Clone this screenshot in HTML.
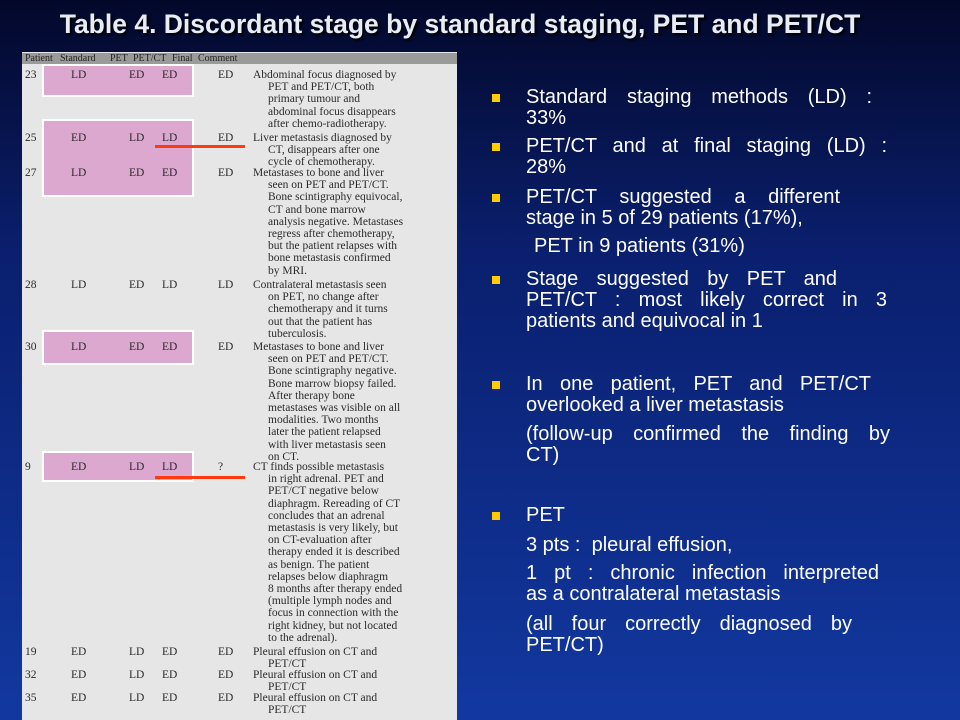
<!DOCTYPE html>
<html><head><meta charset="utf-8"><style>
*{margin:0;padding:0;box-sizing:border-box}
body{width:960px;height:720px;overflow:hidden;position:relative;background:linear-gradient(180deg,#03082a 0%,#0a1f6e 35%,#1238a0 100%);font-family:"Liberation Sans",sans-serif}
#title{position:absolute;left:0;width:920px;top:9px;text-align:center;color:#e8ecf4;font-size:26.5px;font-weight:bold;text-shadow:2px 2px 2px #000;white-space:nowrap}
#table{position:absolute;left:22px;top:52px;width:435px;height:668px;background:#e6e6e6;font-family:"Liberation Serif",serif;font-size:11.5px;color:#2a2a2a;overflow:hidden}
#hdr{position:absolute;left:0;top:1px;width:435px;height:11px;background:#9a9a9a;font-size:10px;line-height:11px;color:#222}
.c{position:absolute;white-space:nowrap;line-height:12.2px}
.pink{position:absolute;background:#dca8d0;border:2px solid #fff}
.red{position:absolute;height:3px;background:#ff3a10}
.b{position:absolute;left:492px;width:8px;height:8px;background:#ffcc00}
.t{position:absolute;left:526px;color:#fff;font-size:20px;line-height:21px;white-space:nowrap}
.j{display:block;text-align:justify;text-align-last:justify;white-space:normal}
</style></head><body>
<div id="title">Table 4. Discordant stage by standard staging, PET and PET/CT</div>
<div id="table">
<div id="hdr"><span class="c" style="left:3px">Patient</span><span class="c" style="left:38px">Standard</span><span class="c" style="left:88px">PET</span><span class="c" style="left:111px">PET/CT</span><span class="c" style="left:150px">Final</span><span class="c" style="left:176px">Comment</span></div>
<div class="pink" style="left:20px;top:12px;width:152px;height:33px"></div>
<div class="pink" style="left:20px;top:67px;width:152px;height:78px"></div>
<div class="pink" style="left:20px;top:278px;width:152px;height:35px"></div>
<div class="pink" style="left:20px;top:399px;width:152px;height:31px"></div>
<div id="rows"></div>
</div>
<div class="red" style="left:155px;top:145px;width:90px"></div>
<div class="red" style="left:155px;top:476px;width:90px"></div>

<div class="b" style="top:94px"></div>
<div class="t" style="top:87px"><span class="j" style="width:346px">Standard staging methods (LD) :</span>33%</div>
<div class="b" style="top:143px"></div>
<div class="t" style="top:136px"><span class="j" style="width:361px">PET/CT and at final staging (LD) :</span>28%</div>
<div class="b" style="top:194px"></div>
<div class="t" style="top:187px"><span class="j" style="width:314px">PET/CT suggested a different</span>stage in 5 of 29 patients (17%),</div>
<div class="t" style="top:236px;left:534px">PET in 9 patients (31%)</div>
<div class="b" style="top:276px"></div>
<div class="t" style="top:269px"><span class="j" style="width:311px">Stage suggested by PET and</span><span class="j" style="width:361px">PET/CT : most likely correct in 3</span>patients and equivocal in 1</div>
<div class="b" style="top:381px"></div>
<div class="t" style="top:374px"><span class="j" style="width:345px">In one patient, PET and PET/CT</span>overlooked a liver metastasis</div>
<div class="t" style="top:424px"><span class="j" style="width:364px">(follow-up confirmed the finding by</span>CT)</div>
<div class="b" style="top:512px"></div>
<div class="t" style="top:505px">PET</div>
<div class="t" style="top:535px">3 pts :&nbsp; pleural effusion,</div>
<div class="t" style="top:563px"><span class="j" style="width:353px">1 pt : chronic infection interpreted</span>as a contralateral metastasis</div>
<div class="t" style="top:614px"><span class="j" style="width:326px">(all four correctly diagnosed by</span>PET/CT)</div>
<script>
const rowsData=[
[69,"23","LD","ED","ED","ED",["Abdominal focus diagnosed by","PET and PET/CT, both","primary tumour and","abdominal focus disappears","after chemo-radiotherapy."]],
[132,"25","ED","LD","LD","ED",["Liver metastasis diagnosed by","CT, disappears after one","cycle of chemotherapy."]],
[167,"27","LD","ED","ED","ED",["Metastases to bone and liver","seen on PET and PET/CT.","Bone scintigraphy equivocal,","CT and bone marrow","analysis negative. Metastases","regress after chemotherapy,","but the patient relapses with","bone metastasis confirmed","by MRI."]],
[279,"28","LD","ED","LD","LD",["Contralateral metastasis seen","on PET, no change after","chemotherapy and it turns","out that the patient has","tuberculosis."]],
[341,"30","LD","ED","ED","ED",["Metastases to bone and liver","seen on PET and PET/CT.","Bone scintigraphy negative.","Bone marrow biopsy failed.","After therapy bone","metastases was visible on all","modalities. Two months","later the patient relapsed","with liver metastasis seen","on CT."]],
[461,"9","ED","LD","LD","?",["CT finds possible metastasis","in right adrenal. PET and","PET/CT negative below","diaphragm. Rereading of CT","concludes that an adrenal","metastasis is very likely, but","on CT-evaluation after","therapy ended it is described","as benign. The patient","relapses below diaphragm","8 months after therapy ended","(multiple lymph nodes and","focus in connection with the","right kidney, but not located","to the adrenal)."]],
[646,"19","ED","LD","ED","ED",["Pleural effusion on CT and","PET/CT"]],
[669,"32","ED","LD","ED","ED",["Pleural effusion on CT and","PET/CT"]],
[692,"35","ED","LD","ED","ED",["Pleural effusion on CT and","PET/CT"]]];
const colX=[3,49,107,140,196,231];
const host=document.getElementById('rows');
rowsData.forEach(r=>{
 const top=r[0]-52;
 for(let i=0;i<5;i++){
  const s=document.createElement('div');s.className='c';
  
  
  s.style.left=colX[i]+'px';s.style.top=top+'px';s.textContent=r[i+1];host.appendChild(s);
 }
 r[6].forEach((ln,j)=>{
  const s=document.createElement('div');s.className='c';
  
  
  s.style.left=(j?colX[5]+15:colX[5])+'px';s.style.top=(top+j*12.2)+'px';s.textContent=ln;host.appendChild(s);
 });
});
</script>
</body></html>
